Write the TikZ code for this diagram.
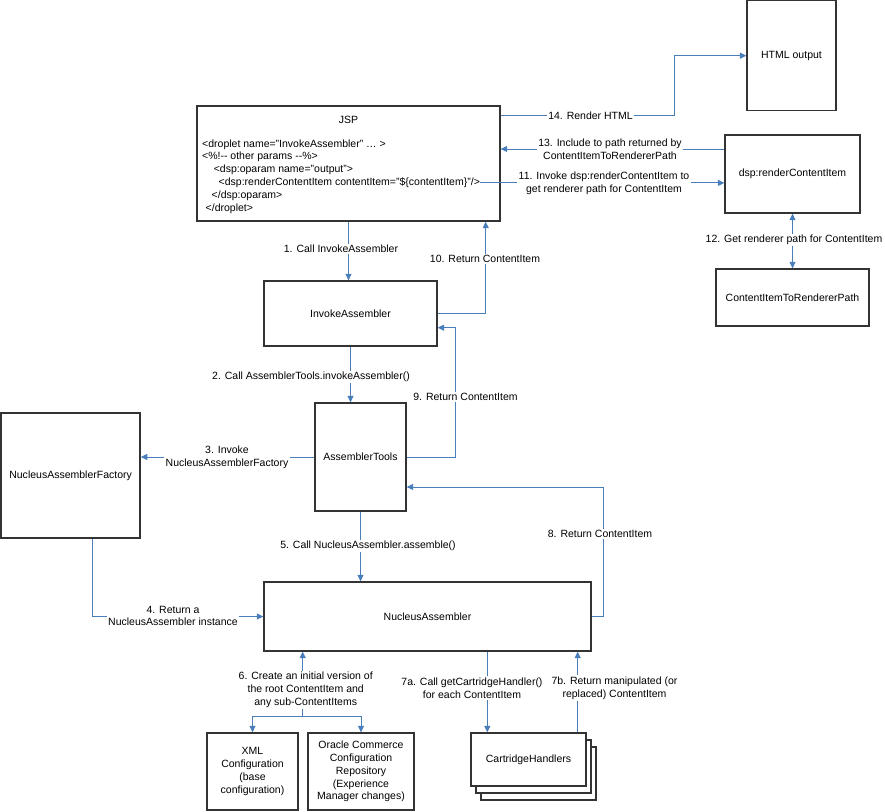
\documentclass[tikz,border=0pt]{standalone}
\usepackage{fontspec}
\setmainfont{Liberation Sans}
\usepackage{tikz}
\usetikzlibrary{calc}
\usetikzlibrary{arrows.meta}
\usetikzlibrary{shadows}
\definecolor{flowblue}{RGB}{74,126,187}
\tikzstyle{compnode}=[black, draw=black!80, line width=1.3pt, shape=rectangle, fill=white, inner sep=2pt, align=center, font=\fontsize{10.5}{12.8}\selectfont]
\tikzstyle{codeline}=[black, inner sep=0pt, anchor=base west, font=\fontsize{10.5}{12.8}\selectfont]
\tikzstyle{flowlabel}=[black, shape=rectangle, fill=white, inner sep=1.5pt, align=center, font=\fontsize{10.5}{12.8}\selectfont]
\tikzstyle{flow}=[-{Triangle[length=6.5pt, width=6pt]}, line width=1pt, color=flowblue]
\tikzstyle{flowboth}=[{Triangle[length=6.5pt, width=6pt]}-{Triangle[length=6.5pt, width=6pt]}, line width=1pt, color=flowblue]

\begin{document}
\begin{tikzpicture}[x=1pt, y=-1pt]
\useasboundingbox (0,0) rectangle (885,811);

\node [compnode, minimum width=89pt, minimum height=110pt] (htmlout) at (791.5,55.7) {HTML output};
\node [compnode, minimum width=303pt, minimum height=115pt] (jsp) at (348.5,163.5) {};
\node [codeline, anchor=center] (jsptitle) at (348.5,120) {JSP};
\node [codeline] (codeone) at (202,147) {<droplet name="InvokeAssembler" … >};
\node [codeline] (codetwo) at (202,159.9) {<\%!-{}- other params -{}-\%>};
\node [codeline] (codethree) at (213.6,172.8) {<dsp:oparam name="output">};
\node [codeline] (codefour) at (218.5,185.7) {<dsp:renderContentItem contentItem="\$\{contentItem\}"/>};
\node [codeline] (codefive) at (211.5,198.6) {</dsp:oparam>};
\node [codeline] (codesix) at (205.5,211.5) {</droplet>};
\node [compnode, minimum width=135pt, minimum height=78pt] (dsprender) at (792.5,174) {dsp:renderContentItem};
\node [compnode, minimum width=153pt, minimum height=57pt] (pathcomp) at (792.5,297.5) {ContentItemToRendererPath};
\node [compnode, minimum width=173pt, minimum height=65pt] (invoke) at (350.5,313.5) {InvokeAssembler};
\node [compnode, minimum width=91pt, minimum height=108pt] (asmtools) at (360.5,457) {AssemblerTools};
\node [compnode, minimum width=139pt, minimum height=125pt] (factory) at (70.6,475.5) {NucleusAssemblerFactory};
\node [compnode, minimum width=327pt, minimum height=69pt] (nucleus) at (427.5,616.5) {NucleusAssembler};
\node [compnode, minimum width=91pt, minimum height=77pt] (xmlconf) at (252.5,771.5) {XML\\Configuration\\(base\\configuration)};
\node [compnode, minimum width=106pt, minimum height=77pt] (repo) at (361,771.5) {Oracle Commerce\\Configuration\\Repository\\(Experience\\Manager changes)};
\node [compnode, minimum width=115pt, minimum height=53pt, double copy shadow={shadow xshift=5pt, shadow yshift=-7pt}] (handlers) at (528.5,759.5) {CartridgeHandlers};

\coordinate (renderout) at ([yshift=-9.7pt]jsp.north east);
\coordinate (inclpath) at ([yshift=25pt]dsprender.west);
\coordinate (cfgsplit) at (302.7,716.7);

\draw[flow] (jsp.south) -- (jsp.south |- invoke.north);
\draw[flow] (invoke.south) -- (invoke.south |- asmtools.north);
\draw[flow] (asmtools.west) -- (asmtools.west -| factory.east);
\draw[flow] ([xshift=21.5pt]factory.south) |- (nucleus.west);
\draw[flow] (asmtools.south) -- (asmtools.south |- nucleus.north);
\draw[flow] (cfgsplit) -- (cfgsplit |- nucleus.south);
\draw[flow] (cfgsplit) -| (xmlconf.north);
\draw[flow] (cfgsplit) -| (repo.north);
\draw[flow] ([xshift=59.8pt]nucleus.south) -- ([xshift=-41.2pt]handlers.north);
\draw[flow] ([xshift=49.2pt]handlers.north) -- ([xshift=150.2pt]nucleus.south);
\draw[flow] (nucleus.east) -- ++(11.5,0) |- ([yshift=-30pt]asmtools.east);
\draw[flow] (asmtools.east) -- ++(48.7,0) |- ([yshift=-14.2pt]invoke.east);
\draw[flow] (invoke.east) -| ([xshift=137.2pt]jsp.south);
\draw[flow] (codefour.east) -- (codefour.east -| dsprender.west);
\draw[flowboth] (dsprender.south) -- (pathcomp.north);
\draw[flow] (inclpath) -- (inclpath -| jsp.east);
\draw[flow] (renderout) -- ++(174,0) |- (htmlout.west);

\node [flowlabel] (callinvoke) at (341,249) {1. Call InvokeAssembler};
\node [flowlabel] (calltools) at (311,377) {2. Call AssemblerTools.invokeAssembler()};
\node [flowlabel] (callfactory) at (227,457.5) {3. Invoke\\NucleusAssemblerFactory};
\node [flowlabel] (retinstance) at (173,616) {4. Return a\\NucleusAssembler instance};
\node [flowlabel] (callassemble) at (368,546) {5. Call NucleusAssembler.assemble()};
\node [flowlabel] (createitem) at (305.7,690) {6. Create an initial version of\\the root ContentItem and\\any sub-ContentItems};
\node [flowlabel] (callhandler) at (472,688) {7a. Call getCartridgeHandler()\\for each ContentItem};
\node [flowlabel] (rethandler) at (614.5,688) {7b. Return manipulated (or\\replaced) ContentItem};
\node [flowlabel] (retnucleus) at (600,534) {8. Return ContentItem};
\node [flowlabel] (rettools) at (465.5,397) {9. Return ContentItem};
\node [flowlabel] (retinvoke) at (485,259) {10. Return ContentItem};
\node [flowlabel] (invokerender) at (604,183.5) {11. Invoke dsp:renderContentItem to\\get renderer path for ContentItem};
\node [flowlabel] (getpath) at (794,240) {12. Get renderer path for ContentItem};
\node [flowlabel] (includepath) at (610,149.5) {13. Include to path returned by\\ContentItemToRendererPath};
\node [flowlabel] (renderhtml) at (590.5,115.7) {14. Render HTML};
\end{tikzpicture}
\end{document}
